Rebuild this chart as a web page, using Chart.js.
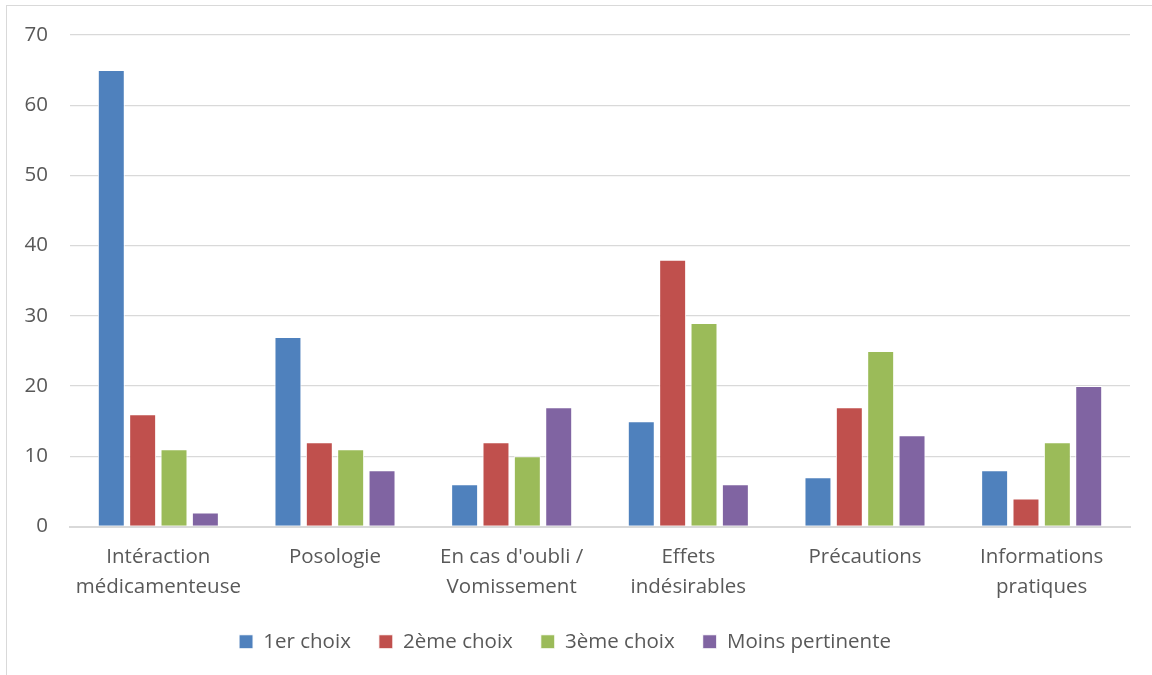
<!DOCTYPE html>
<html><head><meta charset="utf-8">
<script src="https://cdn.jsdelivr.net/npm/chart.js@4/dist/chart.umd.min.js"></script>
<style>
html,body{margin:0;padding:0;background:#fff;}
#wrap{position:relative;width:1152px;height:675px;overflow:hidden;}
#frame{position:absolute;left:6px;top:5px;width:1160px;height:700px;border:1.5px solid #d9d9d9;box-sizing:border-box;}
canvas{position:absolute;left:0;top:0;}
</style></head><body>
<div id="wrap"><div id="frame"></div><canvas id="c" width="1152" height="675"></canvas></div>
<script>
const categories = [["Intéraction","médicamenteuse"],["Posologie"],["En cas d'oubli /","Vomissement"],["Effets","indésirables"],["Précautions"],["Informations","pratiques"]];
const seriesNames = ["1er choix","2ème choix","3ème choix","Moins pertinente"];
const choix1 = [65,27,6,15,7,8];
const choix2 = [16,12,12,38,17,4];
const choix3 = [11,11,10,29,25,12];
const moins = [2,8,17,6,13,20];
const colors = ["#4F81BD","#C0504D","#9BBB59","#8064A2"];
const font = "'Open Sans', 'Liberation Sans', sans-serif";
const seriesVals = [choix1,choix2,choix3,moins];
new Chart(document.getElementById('c'),{
  type:'bar',
  data:{labels:categories,datasets:seriesVals.map((v,i)=>({label:seriesNames[i],data:v,backgroundColor:colors[i],borderColor:'#ffffff',borderWidth:1,categoryPercentage:0.71,barPercentage:0.86}))},
  options:{
    responsive:false,animation:false,devicePixelRatio:1,
    layout:{padding:{left:0,right:22,top:35,bottom:13}},
    plugins:{
      tooltip:{enabled:false},
      legend:{position:'bottom',labels:{font:{family:font,size:20.5},color:'#595959',boxWidth:14,boxHeight:14,padding:28,useBorderRadius:false}}
    },
    scales:{
      x:{grid:{display:false},border:{color:'#d9d9d9',width:2},
        ticks:{font:{family:font,size:20.5,lineHeight:1.45},color:'#595959',padding:8,maxRotation:0,autoSkip:false},
        afterFit(s){s.height=77;}},
      y:{min:0,max:70,grid:{color:'#d9d9d9',lineWidth:1.3,drawTicks:false},border:{display:false},
        ticks:{stepSize:10,font:{family:font,size:20.5},color:'#595959',padding:22},
        afterFit(s){s.width=70;}}
    }
  }
});
</script></body></html>
